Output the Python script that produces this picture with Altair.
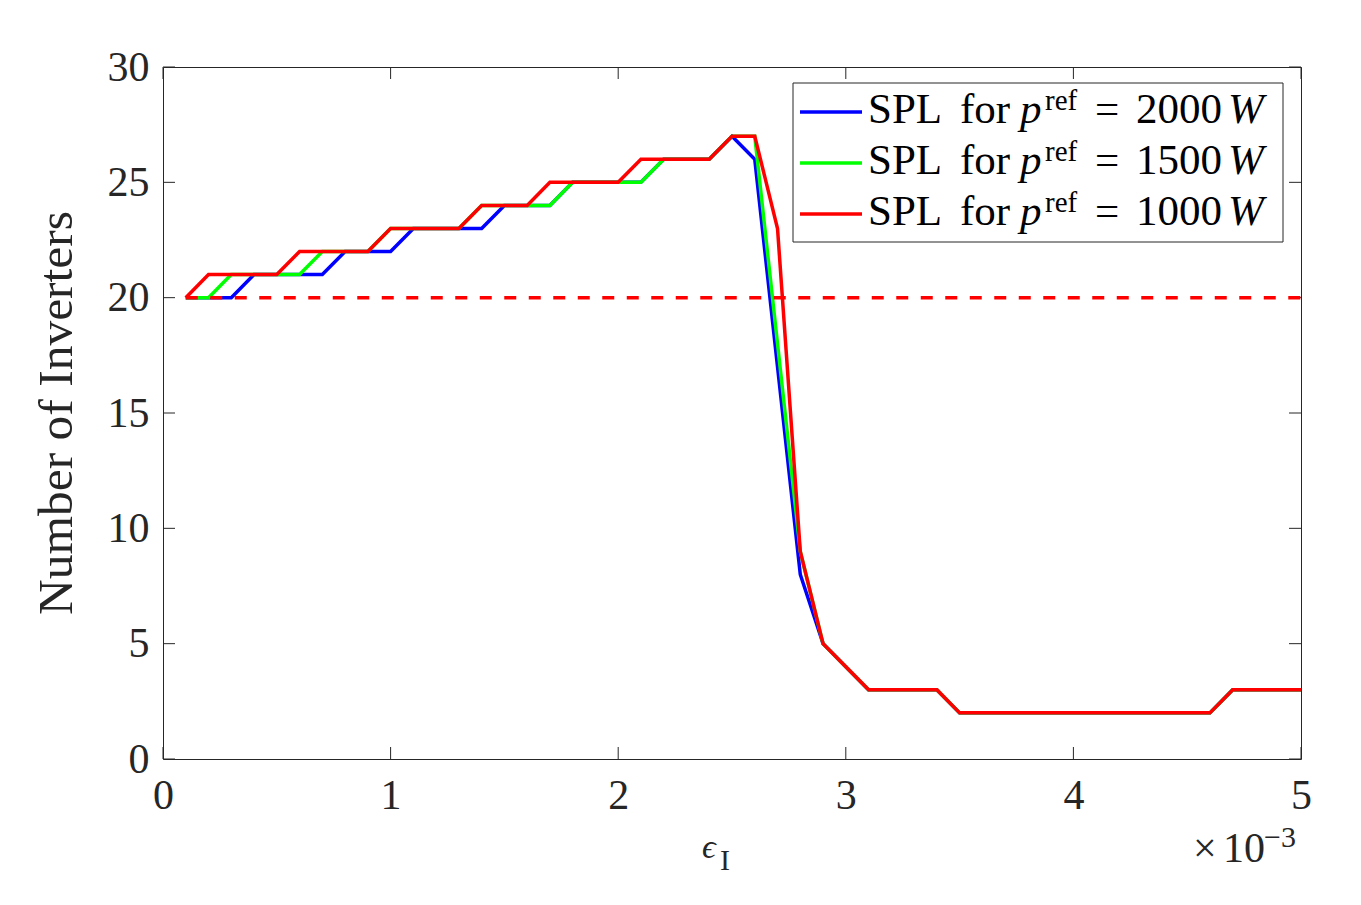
import altair as alt
import pandas as pd

# epsilon_I values, in units of 1e-3
eps = [0.1, 0.2, 0.3, 0.4, 0.5, 0.6, 0.7, 0.8, 0.9, 1.0,
       1.1, 1.2, 1.3, 1.4, 1.5, 1.6, 1.7, 1.8, 1.9, 2.0,
       2.1, 2.2, 2.3, 2.4, 2.5, 2.6, 2.7, 2.8, 2.9, 3.0,
       3.1, 3.2, 3.3, 3.4, 3.5, 3.6, 3.7, 3.8, 3.9, 4.0,
       4.1, 4.2, 4.3, 4.4, 4.5, 4.6, 4.7, 4.8, 4.9, 5.0]

# number of inverters selected by SPL for each reference power
spl_2000 = [20, 20, 20, 21, 21, 21, 21, 22, 22, 22,
            23, 23, 23, 23, 24, 24, 24, 25, 25, 25,
            25, 26, 26, 26, 27, 26, 17, 8, 5, 4,
            3, 3, 3, 3, 2, 2, 2, 2, 2, 2,
            2, 2, 2, 2, 2, 2, 3, 3, 3, 3]
spl_1500 = [20, 20, 21, 21, 21, 21, 22, 22, 22, 23,
            23, 23, 23, 24, 24, 24, 24, 25, 25, 25,
            25, 26, 26, 26, 27, 27, 18, 9, 5, 4,
            3, 3, 3, 3, 2, 2, 2, 2, 2, 2,
            2, 2, 2, 2, 2, 2, 3, 3, 3, 3]
spl_1000 = [20, 21, 21, 21, 21, 22, 22, 22, 22, 23,
            23, 23, 23, 24, 24, 24, 25, 25, 25, 25,
            26, 26, 26, 26, 27, 27, 23, 9, 5, 4,
            3, 3, 3, 3, 2, 2, 2, 2, 2, 2,
            2, 2, 2, 2, 2, 2, 3, 3, 3, 3]

# reference count (dashed line)
ref_eps = [0.1, 5.0]
ref_count = [20, 20]

x_ticks = [0, 1, 2, 3, 4, 5]
y_ticks = [0, 5, 10, 15, 20, 25, 30]

series_colors = ["#0000FF", "#00FF00", "#FF0000"]
series_power = ["2000", "1500", "1000"]

W, H = 1138, 692
FONT = "Liberation Serif"
AX = "#262626"


def x_enc():
    return alt.X("eps:Q",
                 scale=alt.Scale(domain=[0, 5], nice=False, zero=False),
                 axis=alt.Axis(values=x_ticks, title=None, grid=False, domain=False,
                               ticks=False, tickSize=0, labelFont=FONT, labelFontSize=42,
                               labelColor=AX, labelBaseline="alphabetic", labelPadding=49,
                               labelFlush=False, labelOverlap=False, format="d"))


def y_enc():
    return alt.Y("n:Q",
                 scale=alt.Scale(domain=[0, 30], nice=False, zero=False),
                 axis=alt.Axis(values=y_ticks, title=None, grid=False, domain=False,
                               ticks=False, tickSize=0, labelFont=FONT, labelFontSize=42,
                               labelColor=AX, labelPadding=14, labelFlush=False,
                               labelOverlap=False, format="d"))


one = pd.DataFrame({"k": [0]})

layers = []

# inward tick marks on all four sides
yt = pd.DataFrame({"n": y_ticks})
xt = pd.DataFrame({"eps": x_ticks})
for x0, x1 in [(0, 12), (W - 12, W)]:
    layers.append(alt.Chart(yt).mark_rule(color=AX, strokeWidth=1).encode(
        y=y_enc(), x=alt.value(x0), x2=alt.value(x1)))
for y0, y1 in [(H, H - 12), (0, 12)]:
    layers.append(alt.Chart(xt).mark_rule(color=AX, strokeWidth=1).encode(
        x=x_enc(), y=alt.value(y0), y2=alt.value(y1)))

# SPL curves, blue first and red on top
for vals, col in zip([spl_2000, spl_1500, spl_1000], series_colors):
    df = pd.DataFrame({"eps": eps, "n": vals})
    layers.append(alt.Chart(df).mark_line(color=col, strokeWidth=3.5, strokeJoin="miter").encode(
        x=x_enc(), y=y_enc()))

# dashed reference level
ref_df = pd.DataFrame({"eps": ref_eps, "n": ref_count})
layers.append(alt.Chart(ref_df).mark_line(color="#FF0000", strokeWidth=3.5,
                                          strokeDash=[12, 12.5]).encode(
    x=x_enc(), y=y_enc()))


def txt(s, x, y, size, style="normal", color="#000000", angle=0, align="left"):
    return alt.Chart(one).mark_text(align=align, baseline="alphabetic", font=FONT,
                                    fontSize=size, fontStyle=style, color=color,
                                    angle=angle).encode(
        x=alt.value(x), y=alt.value(y), text=alt.value(s))


# legend box
layers.append(alt.Chart(one).mark_rect(fill="white", stroke=AX, strokeWidth=1).encode(
    x=alt.value(630), x2=alt.value(1120), y=alt.value(16), y2=alt.value(175)))

for i, (col, pw) in enumerate(zip(series_colors, series_power)):
    base = 56 + 51 * i
    layers.append(alt.Chart(one).mark_rule(color=col, strokeWidth=3.5).encode(
        x=alt.value(637), x2=alt.value(699), y=alt.value(base - 11)))
    layers.append(txt("SPL", 705, base, 43))
    layers.append(txt("for", 797, base, 43))
    layers.append(txt("p", 857, base, 43, style="italic"))
    layers.append(txt("ref", 882, base - 13, 29))
    layers.append(txt("=", 932, base, 43))
    layers.append(txt(pw, 973, base, 43))
    layers.append(txt("W", 1065, base, 43, style="italic"))

# axis titles and exponent
layers.append(txt("Number of Inverters", -91, H / 2, 49.5, color=AX, angle=270, align="center"))
layers.append(txt("ϵ", 539, 791, 34, style="italic", color=AX))
layers.append(txt("I", 557, 803, 30, color=AX))
layers.append(txt("×", 1030, 795, 42, color=AX))
layers.append(txt("10", 1060, 795, 42, color=AX))
layers.append(txt("−3", 1101, 780, 30, color=AX))

chart = alt.layer(*layers).properties(
    width=W, height=H,
    autosize=alt.AutoSizeParams(type="none"),
    padding={"left": 163, "top": 67, "right": 60, "bottom": 146},
    background="white",
).configure_view(stroke=AX, strokeWidth=1)

chart.save("out.html", embed_options={"renderer": "svg", "actions": False})
